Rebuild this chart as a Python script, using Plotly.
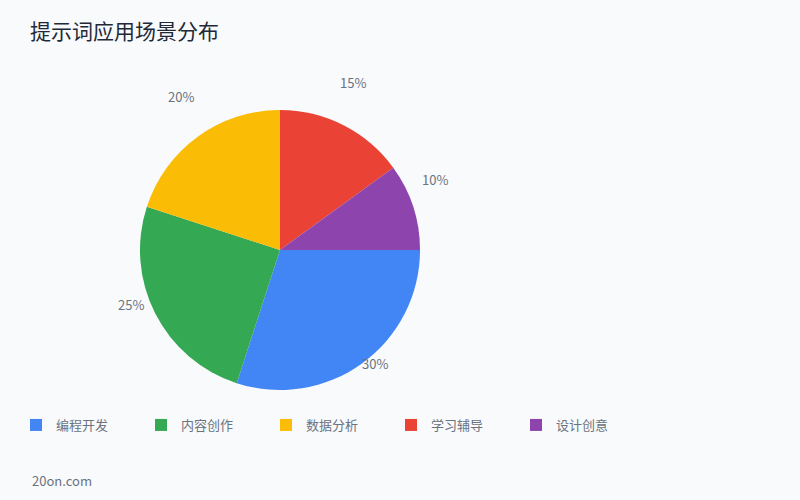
import math
import plotly.graph_objects as go

# data
categories = ['编程开发', '内容创作', '数据分析', '学习辅导', '设计创意']
shares = [30, 25, 20, 15, 10]
colors = ['#4285F4', '#34A853', '#FBBC05', '#EA4335', '#8E44AD']

font_family = 'Noto Sans CJK SC, Noto Sans, sans-serif'
text_grey = '#6b7280'

# figure geometry (px)
W, H = 800, 500
m_l, m_r, m_t, m_b = 20, 20, 60, 100
plot_w, plot_h = W - m_l - m_r, H - m_t - m_b
pie_cx, pie_cy, pie_r = 280, 250, 140
label_r = 165


def to_paper(px, py):
    return (px - m_l) / plot_w, (H - m_b - py) / plot_h


x0, y1 = to_paper(pie_cx - pie_r, pie_cy - pie_r)
x1, y0 = to_paper(pie_cx + pie_r, pie_cy + pie_r)

fig = go.Figure()

fig.add_trace(
    go.Pie(
        labels=categories,
        values=shares,
        sort=False,
        direction='clockwise',
        rotation=90,
        marker=dict(colors=colors, line=dict(width=0)),
        textinfo='none',
        domain=dict(x=[x0, x1], y=[y0, y1]),
    )
)

# percent labels around the pie, on each slice's mid angle
total = sum(shares)
annotations = []
cum = 0
for v in shares:
    theta = math.radians(360 * (cum + v / 2) / total)
    cum += v
    lx, ly = to_paper(pie_cx + label_r * math.cos(theta),
                      pie_cy + label_r * math.sin(theta))
    annotations.append(dict(
        text=f'{round(100 * v / total)}%',
        xref='paper', yref='paper',
        x=lx, y=ly, xanchor='center', yanchor='middle',
        xshift=-2, yshift=20,
        showarrow=False,
        font=dict(size=13, color=text_grey),
    ))

annotations.append(dict(
    text='20on.com',
    xref='paper', yref='paper',
    x=10 / plot_w, xanchor='left',
    y=-80 / plot_h, yanchor='middle',
    showarrow=False,
    font=dict(size=13, color=text_grey),
))

# update layout
fig.update_layout(
    width=W,
    height=H,
    paper_bgcolor='#f8fafc',
    plot_bgcolor='#f8fafc',
    font=dict(family=font_family, color=text_grey),
    margin=dict(l=m_l, r=m_r, t=m_t, b=m_b),
    title=dict(
        text='提示词应用场景分布',
        x=30 / W, xanchor='left',
        y=1 - 32 / H, yanchor='middle',
        font=dict(size=21, color='#1f2937', family=font_family),
    ),
    legend=dict(
        orientation='h',
        x=-4 / plot_w, xanchor='left',
        y=-10 / plot_h, yanchor='top',
        entrywidth=80,
        entrywidthmode='pixels',
        font=dict(size=13, color=text_grey),
    ),
    annotations=annotations,
)

fig.write_html(
    'out.html',
    config={'displayModeBar': False},
    post_script="document.body.style.margin='0';",
)
